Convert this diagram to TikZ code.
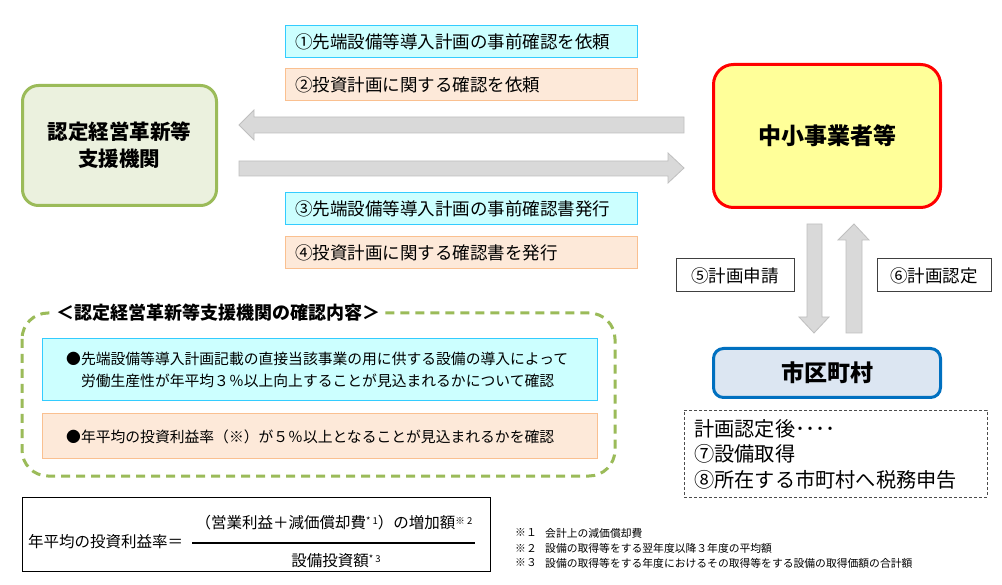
\documentclass[tikz,border=0pt]{standalone}
\usepackage{fontspec}
\setmainfont{Noto Sans CJK JP}
\definecolor{cyanfill}{HTML}{CCFFFF}
\definecolor{cyanline}{HTML}{33CCFF}
\definecolor{peachfill}{HTML}{FDE9D9}
\definecolor{peachline}{HTML}{FAC090}
\definecolor{grn}{HTML}{9BBB59}
\definecolor{grnfill}{HTML}{EBF1DE}
\definecolor{yel}{HTML}{FFFF99}
\definecolor{blu}{HTML}{0070C0}
\definecolor{blufill}{HTML}{DCE6F2}
\definecolor{arrfill}{HTML}{D9D9D9}
\definecolor{arrline}{HTML}{BFBFBF}
\tikzset{
  stepbox/.style={draw, line width=1pt, minimum height=32, text width=332, inner xsep=10, inner ysep=0, align=left, font=\fontsize{17.5}{20}\selectfont},
  cyanbox/.style={stepbox, fill=cyanfill, draw=cyanline},
  peachbox/.style={stepbox, fill=peachfill, draw=peachline},
  blockarrow/.style={fill=arrfill, draw=arrline, line width=0.8pt},
  smallbox/.style={draw=black!75, line width=1pt, fill=white, minimum height=33, inner sep=0, font=\fontsize{17.5}{20}\selectfont},
  wide/.style={draw, line width=1pt, minimum width=555, inner sep=0},
}
\newcommand{\supmark}[1]{\raisebox{4.5pt}{\fontsize{9.5}{10}\selectfont #1}}
\begin{document}
\begin{tikzpicture}[x=1pt,y=-1pt]
\useasboundingbox[fill=white] (0,0) rectangle (1002,585);

% step labels
\node[cyanbox]  (s1) at (461,41.5)  {①先端設備等導入計画の事前確認を依頼};
\node[peachbox] (s2) at (461,84.5)  {②投資計画に関する確認を依頼};
\node[cyanbox]  (s3) at (461,208.5) {③先端設備等導入計画の事前確認書発行};
\node[peachbox] (s4) at (461,253)   {④投資計画に関する確認書を発行};

% main boxes
\node[draw=grn, fill=grnfill, line width=3pt, rounded corners=16, minimum width=194, minimum height=120, align=center, font=\fontsize{20.5}{27}\selectfont\bfseries] (sien) at (119.5,145.5) {認定経営革新等\\支援機関};
\node[draw=red, fill=yel, line width=3pt, rounded corners=20, minimum width=227, minimum height=143, font=\fontsize{23}{26}\selectfont\bfseries] (chusho) at (827,136) {中小事業者等};
\node[draw=blu, fill=blufill, line width=3pt, rounded corners=10, minimum width=227, minimum height=49, font=\fontsize{23}{26}\selectfont\bfseries] (city) at (827,373) {市区町村};

% horizontal block arrows
\draw[blockarrow] (684,117) -- (254,117) -- (254,110) -- (239,125) -- (254,140) -- (254,133) -- (684,133) -- cycle;
\draw[blockarrow] (239,161) -- (668,161) -- (668,153) -- (684,168) -- (668,183) -- (668,176) -- (239,176) -- cycle;
% vertical block arrows
\draw[blockarrow] (807,224) -- (822,224) -- (822,317) -- (829,317) -- (814,333) -- (799,317) -- (807,317) -- cycle;
\draw[blockarrow] (846,333) -- (862,333) -- (862,240) -- (869,240) -- (854,224) -- (838,240) -- (846,240) -- cycle;

\node[smallbox, minimum width=118] (s5) at (735,275.5) {⑤計画申請};
\node[smallbox, minimum width=114] (s6) at (934,275.5) {⑥計画認定};

% after-approval dashed box
\node[draw=black!70, dashed, dash pattern=on 3pt off 2pt, line width=0.8pt, minimum width=303, minimum height=87, inner sep=0] (after) at (835.5,453.5) {};
\node[anchor=west, align=left, inner sep=0, font=\fontsize{20.2}{25.5}\selectfont] (aftertxt) at (694,454) {計画認定後････\\⑦設備取得\\⑧所在する市町村へ税務申告};

% confirmation content group
\draw[draw=grn, line width=3pt, dash pattern=on 9pt off 6pt, rounded corners=26] (22,313) rectangle (615,476);
\node[fill=white, anchor=west, inner xsep=4, inner ysep=2, font=\fontsize{18}{20}\selectfont\bfseries] (ttl) at (52,313) {＜認定経営革新等支援機関の確認内容＞};
\node[wide, fill=cyanfill, draw=cyanline, minimum height=62] (c1) at (319.5,370) {};
\node[anchor=west, align=left, inner sep=0, font=\fontsize{14.8}{22}\selectfont] (c1t) at (66,370) {●先端設備等導入計画記載の直接当該事業の用に供する設備の導入によって\\\hspace*{14.8pt}労働生産性が年平均３％以上向上することが見込まれるかについて確認};
\node[wide, fill=peachfill, draw=peachline, minimum height=44] (c2) at (319.5,436) {};
\node[anchor=west, inner sep=0, font=\fontsize{14.8}{18}\selectfont] (c2t) at (66,437) {●年平均の投資利益率（※）が５％以上となることが見込まれるかを確認};

% formula
\node[draw=black, line width=1.6pt, minimum width=468, minimum height=74, inner sep=0] (fbox) at (256.5,534.5) {};
\node[anchor=west, inner sep=0, font=\fontsize{15.5}{18}\selectfont] (flhs) at (28,542) {年平均の投資利益率＝};
\coordinate (fl) at (192,543);
\coordinate (fr) at (475,543);
\draw[line width=1.3pt] (fl) -- (fr);
\node[inner sep=0, font=\fontsize{15.5}{18}\selectfont] (fnum) at (334,523) {（営業利益＋減価償却費\supmark{* 1}）の増加額\supmark{※ 2}};
\node[inner sep=0, font=\fontsize{15.5}{18}\selectfont] (fden) at (336,561) {設備投資額\supmark{* 3}};

% footnotes
\node[anchor=west, inner sep=0, font=\fontsize{10.8}{12}\selectfont] (n1a) at (515,533) {※１};
\node[anchor=west, inner sep=0, font=\fontsize{10.8}{12}\selectfont] (n1b) at (545,533) {会計上の減価償却費};
\node[anchor=west, inner sep=0, font=\fontsize{10.8}{12}\selectfont] (n2a) at (515,548) {※２};
\node[anchor=west, inner sep=0, font=\fontsize{10.8}{12}\selectfont] (n2b) at (545,548) {設備の取得等をする翌年度以降３年度の平均額};
\node[anchor=west, inner sep=0, font=\fontsize{10.8}{12}\selectfont] (n3a) at (515,563) {※３};
\node[anchor=west, inner sep=0, font=\fontsize{10.8}{12}\selectfont] (n3b) at (545,563) {設備の取得等をする年度におけるその取得等をする設備の取得価額の合計額};
\end{tikzpicture}
\end{document}
